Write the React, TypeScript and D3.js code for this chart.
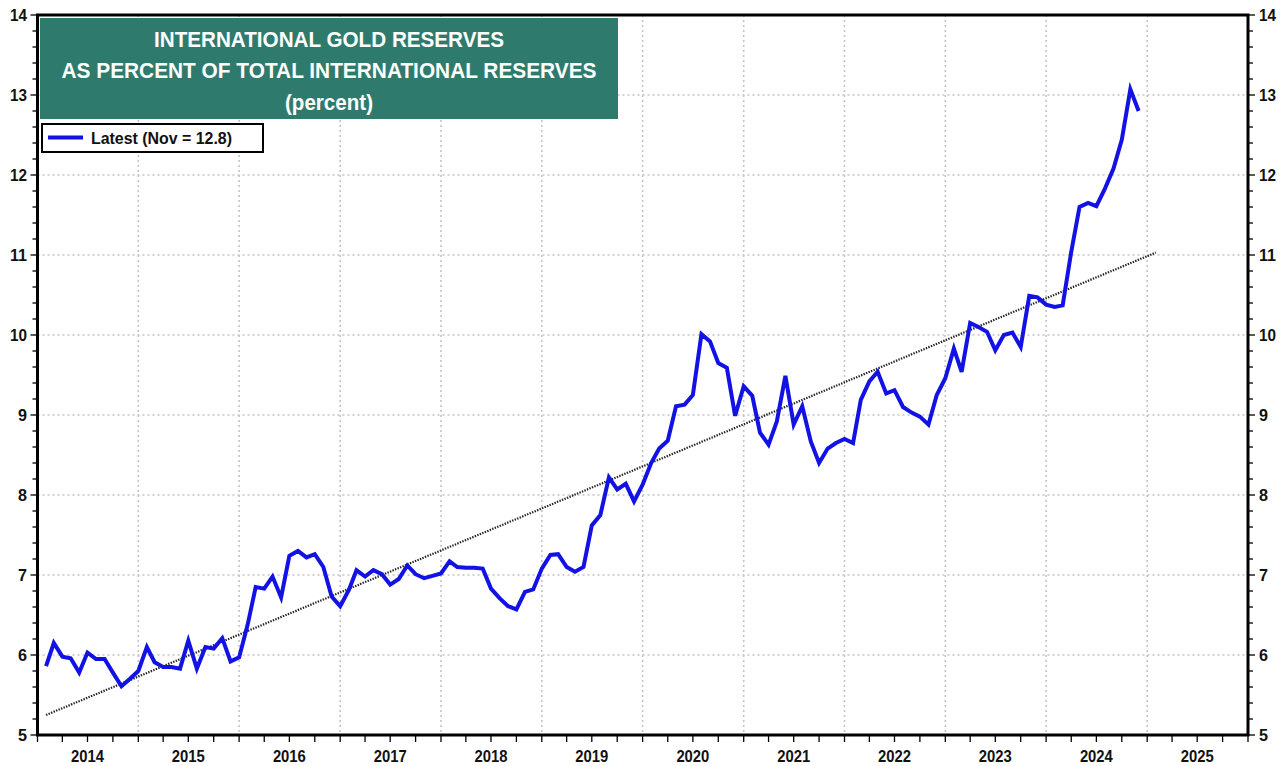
import React from "react";
import * as d3 from "d3";

// ---- Data (percent, monthly, end of month) ----
const gold2014 = [5.86, 6.15, 5.98, 5.96, 5.78, 6.03, 5.95, 5.95, 5.78, 5.61, 5.70, 5.80];
const gold2015 = [6.10, 5.91, 5.85, 5.85, 5.83, 6.18, 5.83, 6.10, 6.08, 6.21, 5.92, 5.97];
const gold2016 = [6.38, 6.85, 6.83, 6.98, 6.72, 7.24, 7.30, 7.22, 7.26, 7.10, 6.73, 6.61];
const gold2017 = [6.81, 7.06, 6.98, 7.06, 7.01, 6.88, 6.95, 7.12, 7.01, 6.96, 6.99, 7.02];
const gold2018 = [7.17, 7.10, 7.09, 7.09, 7.08, 6.83, 6.71, 6.61, 6.57, 6.79, 6.82, 7.08];
const gold2019 = [7.25, 7.26, 7.10, 7.04, 7.10, 7.62, 7.75, 8.22, 8.07, 8.14, 7.92, 8.13];
const gold2020 = [8.40, 8.58, 8.68, 9.11, 9.13, 9.25, 10.01, 9.92, 9.65, 9.59, 8.99, 9.36];
const gold2021 = [9.24, 8.78, 8.63, 8.92, 9.49, 8.88, 9.11, 8.67, 8.40, 8.58, 8.65, 8.70];
const gold2022 = [8.65, 9.19, 9.42, 9.54, 9.27, 9.31, 9.10, 9.03, 8.98, 8.88, 9.25, 9.46];
const gold2023 = [9.83, 9.54, 10.15, 10.10, 10.04, 9.81, 10.00, 10.03, 9.85, 10.49, 10.47, 10.38];
const gold2024 = [10.35, 10.37, 11.04, 11.60, 11.65, 11.61, 11.83, 12.08, 12.44, 13.07, 12.80];

const startYear = 2014;
const seriesByYear = [gold2014, gold2015, gold2016, gold2017, gold2018, gold2019, gold2020, gold2021, gold2022, gold2023, gold2024];

// Trend line end points
const trendStart = { year: 2014, month: 1, value: 5.25 };
const trendEnd = { year: 2025, month: 1, value: 11.03 };

const yTicks = [5, 6, 7, 8, 9, 10, 11, 12, 13, 14];
const yearLabels = [2014, 2015, 2016, 2017, 2018, 2019, 2020, 2021, 2022, 2023, 2024, 2025];

const titleLines = ["INTERNATIONAL GOLD RESERVES", "AS PERCENT OF TOTAL INTERNATIONAL RESERVES", "(percent)"];
const titleWidths = [350, 535, 88];
const legendLabel = "Latest (Nov = 12.8)";

// ---- Layout ----
const W = 1286;
const H = 766;
const left = 37.5;
const right = 1248;
const top = 15;
const bottom = 735;

const sans = "'Liberation Sans', Arial, Helvetica, sans-serif";

// month-end date (first day of next month)
const monthEnd = (year: number, month1: number) => new Date(year, month1, 1);

export default function App() {
  const x = d3.scaleTime().domain([new Date(2014, 0, 1), new Date(2026, 0, 1)]).range([left, right]);
  const y = d3.scaleLinear().domain([5, 14]).range([bottom, top]);

  const data: { date: Date; value: number }[] = [];
  seriesByYear.forEach((arr, yi) => {
    arr.forEach((v, mi) => data.push({ date: monthEnd(startYear + yi, mi + 1), value: v }));
  });

  const line = d3
    .line<{ date: Date; value: number }>()
    .x((d) => x(d.date))
    .y((d) => y(d.value));

  const trend = [
    { date: monthEnd(trendStart.year, trendStart.month), value: trendStart.value },
    { date: monthEnd(trendEnd.year, trendEnd.month), value: trendEnd.value },
  ];

  const minorY = d3.range(50, 141, 2).map((v) => v / 10);
  const quarters = d3.timeMonth.every(3)!.range(new Date(2014, 0, 1), new Date(2026, 0, 2));
  const yearStarts = d3.timeYear.range(new Date(2015, 0, 1), new Date(2025, 0, 2));

  return (
    <svg width={W} height={H} style={{ position: "absolute", left: 0, top: 0, background: "#fff" }}>
      <rect x={0} y={0} width={W} height={H} fill="#fff" />
      {/* gridlines */}
      <g stroke="#c4c4c4" strokeWidth={1.6} strokeDasharray="2,3">
        {yTicks.slice(1, -1).map((t) => (
          <line key={"gy" + t} x1={left} x2={right} y1={y(t)} y2={y(t)} />
        ))}
        {yearStarts.map((d) => (
          <line key={"gx" + d.getFullYear()} x1={x(d)} x2={x(d)} y1={top} y2={bottom} />
        ))}
      </g>

      {/* trend line */}
      <path d={line(trend) || ""} fill="none" stroke="#222" strokeWidth={2.2} strokeDasharray="1.4,1.3" />

      {/* data line */}
      <path d={line(data) || ""} fill="none" stroke="#1212e4" strokeWidth={4} strokeLinejoin="miter" />

      {/* axis ticks */}
      <g stroke="#000" strokeWidth={1.3}>
        {minorY.map((t) => {
          const major = Math.abs(t - Math.round(t)) < 1e-6;
          const len = major ? 7 : 5;
          return (
            <g key={"ty" + t}>
              <line x1={left - len} x2={left} y1={y(t)} y2={y(t)} />
              <line x1={right} x2={right + len} y1={y(t)} y2={y(t)} />
            </g>
          );
        })}
        {quarters.map((d, i) => (
          <line key={"tq" + i} x1={x(d)} x2={x(d)} y1={bottom} y2={bottom + 7} />
        ))}
      </g>

      {/* frame */}
      <rect x={left} y={top} width={right - left} height={bottom - top} fill="none" stroke="#000" strokeWidth={3} />

      {/* y labels */}
      <g fontFamily={sans} fontWeight="bold" fontSize={17} fill="#111">
        {yTicks.map((t) => (
          <text key={"ly" + t} x={27} y={y(t)} dy="0.36em" textAnchor="end" textLength={t >= 10 ? 17 : 9} lengthAdjust="spacingAndGlyphs">
            {t}
          </text>
        ))}
        {yTicks.map((t) => (
          <text key={"ry" + t} x={1259} y={y(t)} dy="0.36em" textAnchor="start" textLength={t >= 10 ? 17 : 9} lengthAdjust="spacingAndGlyphs">
            {t}
          </text>
        ))}
      </g>

      {/* x labels */}
      <g fontFamily={sans} fontWeight="bold" fontSize={17} fill="#111" textAnchor="middle">
        {yearLabels.map((yr) => (
          <text key={"lx" + yr} x={x(new Date(yr, 6, 1))} y={762} textLength={33} lengthAdjust="spacingAndGlyphs">
            {yr}
          </text>
        ))}
      </g>

      {/* title box */}
      <rect x={40} y={18} width={578} height={101} fill="#2e7b6d" />
      <g fontFamily={sans} fontWeight="bold" fontSize={22} fill="#fff" textAnchor="middle">
        {titleLines.map((t, i) => (
          <text key={"t" + i} x={329} y={46.5 + i * 31.5} textLength={titleWidths[i]} lengthAdjust="spacingAndGlyphs">
            {t}
          </text>
        ))}
      </g>

      {/* legend */}
      <rect x={42} y={124} width={221} height={28} fill="#fff" stroke="#000" strokeWidth={2} />
      <line x1={48} x2={83} y1={137.5} y2={137.5} stroke="#1212e4" strokeWidth={4} />
      <text x={91} y={143.5} fontFamily={sans} fontWeight="bold" fontSize={16} fill="#111" textLength={141} lengthAdjust="spacingAndGlyphs">
        {legendLabel}
      </text>
    </svg>
  );
}
